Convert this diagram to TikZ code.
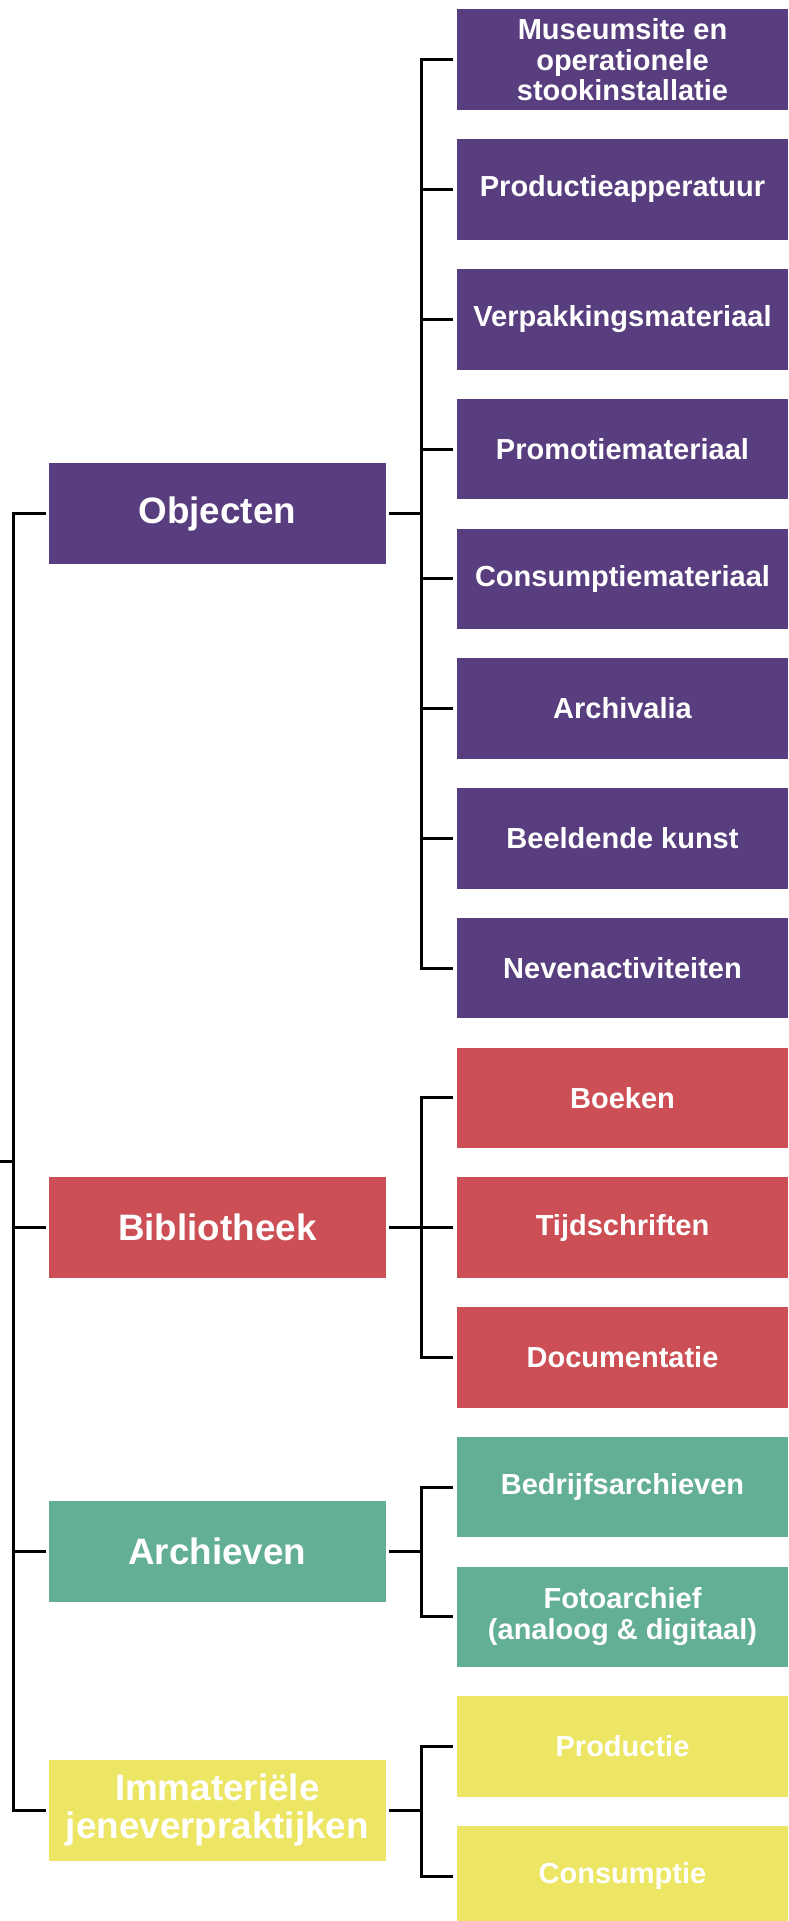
\documentclass[tikz,border=0pt]{standalone}
\usepackage{fontspec}
\setmainfont{Liberation Sans}
\definecolor{cpurple}{HTML}{583E7E}
\definecolor{cred}{HTML}{CC4F55}
\definecolor{cteal}{HTML}{63AE96}
\definecolor{cyellow}{HTML}{EDE665}
\begin{document}
\begin{tikzpicture}[x=1pt,y=-1pt,
  box/.style={rectangle, inner sep=0pt, text=white, align=center},
  lbox/.style={box, minimum width=337pt, minimum height=101pt, font=\fontsize{36.8}{38.5}\selectfont\bfseries},
  rbox/.style={box, minimum width=331pt, minimum height=100.5pt, font=\fontsize{29}{30.5}\selectfont\bfseries},
  conn/.style={draw=black, line width=3pt}]
\useasboundingbox (0,0) rectangle (788,1921);
% level 1
\node[lbox, fill=cpurple] (obj) at (217.3,513.5) {Objecten};
\node[lbox, fill=cred] (bib) at (217.3,1227) {Bibliotheek};
\node[lbox, fill=cteal] (arc) at (217.3,1551) {Archieven};
\node[lbox, fill=cyellow] (imm) at (217.3,1810) {Immateriële\\jeneverpraktijken};
% level 2
\node[rbox, fill=cpurple] (c0) at (622.5,59.75) {Museumsite en\\operationele\\stookinstallatie};
\node[rbox, fill=cpurple] (c1) at (622.5,189.5) {Productieapperatuur};
\node[rbox, fill=cpurple] (c2) at (622.5,319.25) {Verpakkingsmateriaal};
\node[rbox, fill=cpurple] (c3) at (622.5,449) {Promotiemateriaal};
\node[rbox, fill=cpurple] (c4) at (622.5,578.75) {Consumptiemateriaal};
\node[rbox, fill=cpurple] (c5) at (622.5,708.5) {Archivalia};
\node[rbox, fill=cpurple] (c6) at (622.5,838.25) {Beeldende kunst};
\node[rbox, fill=cpurple] (c7) at (622.5,968) {Nevenactiviteiten};
\node[rbox, fill=cred] (c8) at (622.5,1097.75) {Boeken};
\node[rbox, fill=cred] (c9) at (622.5,1227.5) {Tijdschriften};
\node[rbox, fill=cred] (c10) at (622.5,1357.25) {Documentatie};
\node[rbox, fill=cteal] (c11) at (622.5,1487) {Bedrijfsarchieven};
\node[rbox, fill=cteal] (c12) at (622.5,1616.75) {Fotoarchief\\(analoog \& digitaal)};
\node[rbox, fill=cyellow] (c13) at (622.5,1746.5) {Productie};
\node[rbox, fill=cyellow] (c14) at (622.5,1876.25) {Consumptie};
% root connectors
\coordinate (root) at (0,1161.5);
\foreach \p in {obj,bib,arc,imm}
  \draw[conn] (root) -- ++(13.5,0) |- ([xshift=-3pt]\p.west);
% level 2 connectors
\foreach \c in {c0,c1,c2,c3,c4,c5,c6,c7}
  \draw[conn] ([xshift=3pt]obj.east) -- ++(32,0) |- ([xshift=-4pt]\c.west);
\foreach \c in {c8,c9,c10}
  \draw[conn] ([xshift=3pt]bib.east) -- ++(32,0) |- ([xshift=-4pt]\c.west);
\foreach \c in {c11,c12}
  \draw[conn] ([xshift=3pt]arc.east) -- ++(32,0) |- ([xshift=-4pt]\c.west);
\foreach \c in {c13,c14}
  \draw[conn] ([xshift=3pt]imm.east) -- ++(32,0) |- ([xshift=-4pt]\c.west);
\end{tikzpicture}
\end{document}
